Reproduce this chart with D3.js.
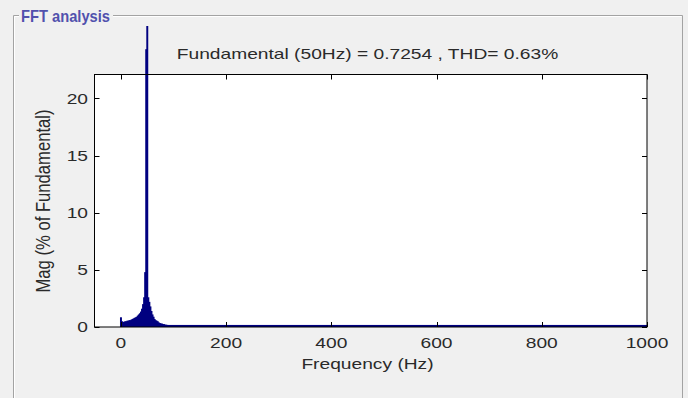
<!DOCTYPE html>
<html>
<head>
<meta charset="utf-8">
<script src="https://cdn.jsdelivr.net/npm/d3@7"></script>
<style>
  html, body { margin: 0; padding: 0; background: #f0f0f0; }
  svg { display: block; font-family: Arial, "Liberation Sans", sans-serif; }
</style>
</head>
<body>
<svg id="fft" width="688" height="398"></svg>
<script>
// FFT spectrum, 2 Hz bins (values in % of fundamental)
const freqs = [0, 2, 4, 6, 8, 10, 12, 14, 16, 18, 20, 22, 24, 26, 28, 30, 32, 34, 36, 38,
  40, 42, 44, 46, 48, 50, 52, 54, 56, 58, 60, 62, 64, 66, 68, 70, 72, 74, 76, 78,
  80, 82, 84, 86, 88, 90, 92, 94, 96, 98, 100];
const mags = [0.85, 0.5, 0.45, 0.45, 0.5, 0.5, 0.55, 0.55, 0.6, 0.6, 0.65, 0.7, 0.75, 0.8, 0.85, 0.9, 1.0, 1.1, 1.2, 1.35,
  1.6, 2.0, 2.6, 4.8, 24.3, 100, 2.6, 2.2, 1.8, 1.4, 1.1, 0.9, 0.7, 0.6, 0.55, 0.5, 0.4, 0.35, 0.3, 0.3,
  0.25, 0.25, 0.2, 0.2, 0.18, 0.15, 0.15, 0.12, 0.12, 0.1, 0.1];
const floorLevel = 0.18; // harmonic residue up to 1000 Hz
const xTicks = [0, 200, 400, 600, 800, 1000];
const yTicks = [0, 5, 10, 15, 20];

const titleText = 'Fundamental (50Hz) = 0.7254 , THD= 0.63%';
const panelTitle = 'FFT analysis';

const svg = d3.select('#fft');
const plot = { left: 94.5, right: 647, top: 74.5, bottom: 327 };
const sx = 1.28; // horizontal stretch of the original picture

const x = d3.scaleLinear().domain([-50, 1000]).range([plot.left, plot.right]);
const y = d3.scaleLinear().domain([0, 22]).range([plot.bottom, 75.5]);

// panel frame
svg.append('path')
  .attr('d', 'M13.5,398 V15.5 H682.5 V398')
  .attr('fill', 'none')
  .attr('stroke', '#a3a3a3');
svg.append('path')
  .attr('d', 'M14.5,398 V16.5 H681.5')
  .attr('fill', 'none')
  .attr('stroke', '#ffffff');
svg.append('rect')
  .attr('x', 19).attr('y', 4).attr('width', 94).attr('height', 22)
  .attr('fill', '#f0f0f0');
svg.append('text')
  .attr('x', 21).attr('y', 22)
  .attr('font-size', 16.5)
  .attr('font-weight', 600)
  .attr('textLength', 89)
  .attr('lengthAdjust', 'spacingAndGlyphs')
  .attr('fill', '#5151ad')
  .text(panelTitle);

// axes background
svg.append('rect')
  .attr('x', plot.left).attr('y', plot.top)
  .attr('width', plot.right - plot.left).attr('height', plot.bottom - plot.top)
  .attr('fill', '#ffffff');

svg.append('clipPath').attr('id', 'barClip')
  .append('rect')
  .attr('x', plot.left).attr('y', 26)
  .attr('width', plot.right - plot.left).attr('height', plot.bottom - 26);

const bars = svg.append('g').attr('clip-path', 'url(#barClip)');
const binW = x(2) - x(0);

bars.append('rect')
  .attr('x', x(0)).attr('y', y(floorLevel))
  .attr('width', x(1000) - x(0)).attr('height', y(0) - y(floorLevel) + 1)
  .attr('fill', '#000080');

bars.selectAll('.bar')
  .data(freqs.map((f, i) => ({ f, m: mags[i] })))
  .enter()
  .append('rect')
  .attr('class', 'bar')
  .attr('x', d => x(d.f) - binW / 2 - 0.3)
  .attr('y', d => y(d.m))
  .attr('width', binW + 0.9)
  .attr('height', d => y(0) - y(d.m))
  .attr('fill', '#000080');

// box and inward ticks
const axes = svg.append('g').attr('stroke', '#000').attr('fill', 'none');
axes.append('rect')
  .attr('x', plot.left).attr('y', plot.top)
  .attr('width', plot.right - plot.left).attr('height', plot.bottom - plot.top);

xTicks.forEach(t => {
  const px = Math.round(x(t)) + 0.5;
  axes.append('line').attr('x1', px).attr('x2', px).attr('y1', plot.bottom).attr('y2', plot.bottom - 5);
  axes.append('line').attr('x1', px).attr('x2', px).attr('y1', plot.top).attr('y2', plot.top + 5);
});
yTicks.forEach(t => {
  const py = Math.round(y(t)) + 0.5;
  axes.append('line').attr('x1', plot.left).attr('x2', plot.left + 5).attr('y1', py).attr('y2', py);
  axes.append('line').attr('x1', plot.right).attr('x2', plot.right - 5).attr('y1', py).attr('y2', py);
});

const labels = svg.append('g').attr('fill', '#2a2a2a').attr('font-size', 15);

labels.selectAll('.xt')
  .data(xTicks)
  .enter()
  .append('text')
  .attr('class', 'xt')
  .attr('text-anchor', 'middle')
  .attr('transform', d => `translate(${x(d)},348) scale(${sx},1)`)
  .text(d => d);

labels.selectAll('.yt')
  .data(yTicks)
  .enter()
  .append('text')
  .attr('class', 'yt')
  .attr('text-anchor', 'end')
  .attr('dy', '0.36em')
  .attr('transform', d => `translate(88,${y(d)}) scale(${sx},1)`)
  .text(d => d);

labels.append('text')
  .attr('text-anchor', 'middle')
  .attr('transform', `translate(367.5,369) scale(${sx},1)`)
  .text('Frequency (Hz)');

labels.append('text')
  .attr('text-anchor', 'middle')
  .attr('font-size', 16)
  .attr('textLength', 183)
  .attr('lengthAdjust', 'spacingAndGlyphs')
  .attr('transform', `translate(50,201) scale(${sx},1) rotate(-90)`)
  .text('Mag (% of Fundamental)');

labels.append('text')
  .attr('text-anchor', 'middle')
  .attr('transform', `translate(367.5,59) scale(${sx},1)`)
  .text(titleText);
</script>
</body>
</html>
